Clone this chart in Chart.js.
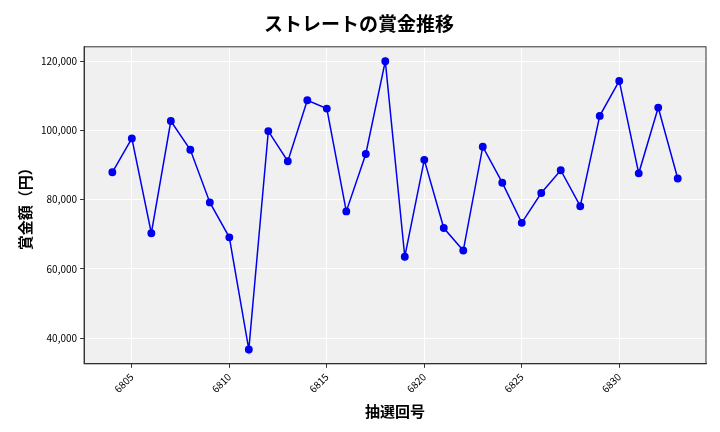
<!DOCTYPE html>
<html>
<head>
<meta charset="utf-8">
<script src="https://cdn.jsdelivr.net/npm/chart.js@4/dist/chart.umd.min.js"></script>
<style>
  body { margin: 0; background: #fff; }
  #wrap { width: 720px; height: 432px; }
</style>
</head>
<body>
<div id="wrap"><canvas id="grafico"></canvas></div>
<script>
// 抽選回号と賞金（読み取り値）
const kaigo = [6804, 6805, 6806, 6807, 6808, 6809, 6810, 6811, 6812, 6813,
               6814, 6815, 6816, 6817, 6818, 6819, 6820, 6821, 6822, 6823,
               6824, 6825, 6826, 6827, 6828, 6829, 6830, 6831, 6832, 6833];
const shokin = [87900, 97700, 70300, 102700, 94400, 79200, 69100, 36700, 99800, 91100,
                108700, 106300, 76600, 93200, 120000, 63500, 91500, 71800, 65300, 95300,
                84900, 73300, 81900, 88500, 78100, 104200, 114300, 87600, 106600, 86100];
const xTicks = [6805, 6810, 6815, 6820, 6825, 6830];
const yTicks = [40000, 60000, 80000, 100000, 120000];

const fuente = "'Noto Sans CJK JP', 'Noto Sans', sans-serif";

// 描画領域の背景を灰色にし、枠線を描く
const fondo = {
  id: 'fondo',
  beforeDraw(chart) {
    const { ctx, chartArea: a } = chart;
    ctx.save();
    ctx.fillStyle = '#f0f0f0';
    ctx.fillRect(a.left, a.top, a.right - a.left, a.bottom - a.top);
    ctx.restore();
  },
  afterDraw(chart) {
    const { ctx, chartArea: a } = chart;
    ctx.save();
    ctx.strokeStyle = '#333';
    ctx.lineWidth = 1;
    ctx.strokeRect(a.left, a.top, a.right - a.left, a.bottom - a.top);
    ctx.restore();
  }
};

new Chart(document.getElementById('grafico'), {
  type: 'line',
  data: {
    datasets: [{
      data: kaigo.map((k, i) => ({ x: k, y: shokin[i] })),
      borderColor: '#0000ee',
      backgroundColor: '#0000ee',
      borderWidth: 1.5,
      pointRadius: 3.2,
      tension: 0,
      fill: false
    }]
  },
  options: {
    responsive: true,
    maintainAspectRatio: false,
    animation: false,
    layout: { padding: { left: 12, right: 14, top: 10, bottom: 8 } },
    plugins: {
      legend: { display: false },
      tooltip: { enabled: false },
      title: {
        display: true,
        text: 'ストレートの賞金推移',
        color: '#000',
        font: { family: fuente, size: 19, weight: 'bold' },
        padding: { top: 2, bottom: 12 }
      }
    },
    scales: {
      x: {
        type: 'linear',
        min: 6802.55,
        max: 6834.45,
        afterBuildTicks: ax => { ax.ticks = xTicks.map(v => ({ value: v })); },
        grid: { color: '#ffffff', lineWidth: 1, tickColor: '#333', tickLength: 4 },
        border: { color: '#333' },
        ticks: { color: '#000', font: { family: fuente, size: 10 }, maxRotation: 45, minRotation: 45,
                 callback: v => String(v) },
        title: { display: true, text: '抽選回号', color: '#000', font: { family: fuente, size: 15, weight: 'bold' } }
      },
      y: {
        min: 32565,
        max: 124160,
        afterBuildTicks: ax => { ax.ticks = yTicks.map(v => ({ value: v })); },
        grid: { color: '#ffffff', lineWidth: 1, tickColor: '#333', tickLength: 4 },
        border: { color: '#333' },
        ticks: { color: '#000', font: { family: fuente, size: 10 },
                 callback: v => v.toLocaleString('en-US') },
        title: { display: true, text: '賞金額（円）', color: '#000', font: { family: fuente, size: 15, weight: 'bold' } }
      }
    }
  },
  plugins: [fondo]
});
</script>
</body>
</html>
